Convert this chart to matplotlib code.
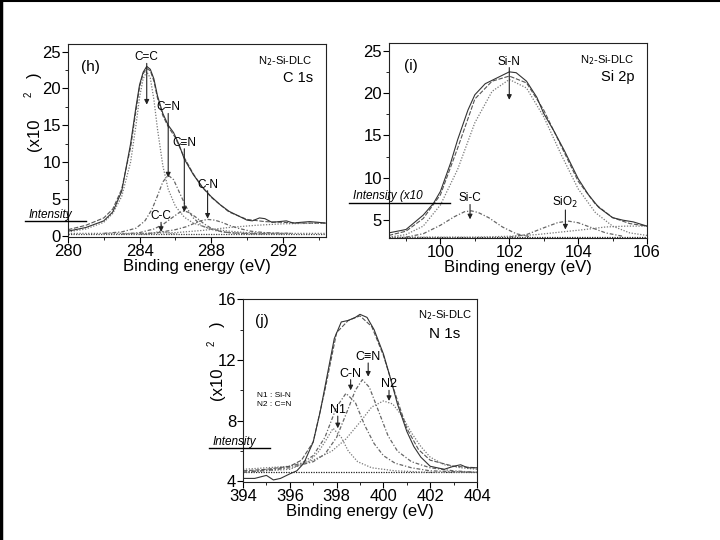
import numpy as np
import matplotlib
matplotlib.use('Agg')
import matplotlib.pyplot as plt
from matplotlib.lines import Line2D
from matplotlib.ticker import MultipleLocator

plt.rcParams['font.family'] = ['Liberation Sans', 'DejaVu Sans']

# ---- (h) C 1s ----
h_x_meas = [280, 281, 282, 282.5, 283, 283.5, 283.8, 284, 284.2, 284.4, 284.6, 284.8, 285, 285.3,
            285.6, 285.9, 286.2, 286.5, 287, 287.5, 288, 288.5, 289, 289.5, 290, 290.3, 290.7,
            291, 291.4, 291.8, 292.2, 292.6, 293, 293.5, 294, 294.4]
h_y_meas = [0.6, 1.1, 2.0, 3.2, 6.0, 12.5, 17.5, 20.5, 22.2, 23.0, 22.6, 21.3, 19.0, 16.6,
            15.0, 14.0, 12.4, 10.4, 8.3, 6.6, 5.3, 4.2, 3.3, 2.7, 2.1, 2.0, 2.4,
            2.3, 1.8, 1.9, 2.0, 1.7, 1.8, 1.9, 1.8, 1.7]
h_x_fit = [280, 281, 282, 282.5, 283, 283.5, 283.8, 284, 284.2, 284.4, 284.6, 284.8, 285, 285.3,
           285.6, 286, 286.5, 287, 287.5, 288, 289, 290, 291, 292, 293, 294.4]
h_y_fit = [0.8, 1.4, 2.4, 3.6, 6.3, 12.0, 17.0, 20.2, 22.0, 22.7, 22.4, 21.0, 18.7, 16.3,
           14.8, 13.3, 10.6, 8.4, 6.6, 5.2, 3.2, 2.2, 1.9, 1.8, 1.7, 1.7]
h_x_cc2 = [280, 281, 282, 282.5, 283, 283.5, 283.8, 284, 284.2, 284.4, 284.6, 284.8, 285, 285.3,
           285.6, 286, 286.5, 287, 288, 289, 290, 292, 294.4]
h_y_cc2 = [0.5, 0.9, 1.8, 3.0, 5.3, 10.0, 15.0, 18.8, 21.3, 22.3, 21.4, 18.5, 14.5, 9.5,
           6.3, 4.0, 2.5, 1.7, 0.9, 0.6, 0.4, 0.3, 0.3]
h_x_cn2 = [282, 283, 283.8, 284.3, 284.7, 285, 285.3, 285.6, 285.9, 286.2, 286.6, 287, 287.5,
           288.2, 289, 290, 292]
h_y_cn2 = [0.3, 0.5, 1.0, 2.0, 3.6, 5.4, 7.3, 8.2, 7.6, 6.0, 3.9, 2.4, 1.3, 0.7, 0.4, 0.3, 0.25]
h_x_cn3 = [283, 284, 284.8, 285.3, 285.8, 286.2, 286.5, 286.8, 287.2, 287.6, 288, 288.6, 289.5, 291]
h_y_cn3 = [0.2, 0.4, 0.9, 1.5, 2.4, 3.1, 3.35, 3.1, 2.4, 1.6, 1.0, 0.5, 0.3, 0.2]
h_x_cn1 = [284, 285, 286, 286.6, 287, 287.4, 287.8, 288.2, 288.6, 289, 289.5, 290.2, 291, 292.5]
h_y_cn1 = [0.2, 0.4, 0.8, 1.2, 1.6, 2.0, 2.2, 2.1, 1.8, 1.4, 1.0, 0.6, 0.4, 0.3]
h_x_cc1 = [284.3, 284.7, 285.0, 285.2, 285.4, 285.7, 286.1]
h_y_cc1 = [0.2, 0.3, 0.5, 0.6, 0.5, 0.3, 0.2]
h_x_bg = [280, 284, 286, 287.5, 289, 290.5, 292, 294.4]
h_y_bg = [0.3, 0.3, 0.4, 0.7, 1.1, 1.4, 1.6, 1.7]

# ---- (i) Si 2p ----
i_x_meas = [98.5, 99, 99.5, 99.8, 100, 100.3, 100.5, 100.8, 101, 101.3, 101.5, 101.8, 102, 102.2,
            102.5, 102.8, 103, 103.3, 103.6, 104, 104.3, 104.6, 105, 105.3, 105.6, 106]
i_y_meas = [3.5, 3.9, 5.6, 7.0, 8.4, 11.8, 14.5, 18.0, 19.8, 21.1, 21.5, 22.1, 22.5, 22.4,
            21.4, 19.5, 17.6, 15.5, 13.2, 9.9, 8.0, 6.5, 5.3, 5.0, 4.8, 4.3]
i_x_fit = [98.5, 99, 99.5, 100, 100.5, 101, 101.5, 102, 102.5, 103, 103.5, 104, 104.5, 105, 105.5, 106]
i_y_fit = [3.2, 3.7, 5.2, 8.0, 13.5, 19.3, 21.4, 22.0, 21.2, 18.0, 13.8, 9.6, 6.9, 5.3, 4.6, 4.3]
i_x_sin = [98.5, 99, 99.5, 100, 100.5, 101, 101.5, 102, 102.5, 103, 103.5, 104, 104.5, 105, 105.5, 106]
i_y_sin = [3.0, 3.3, 4.3, 6.8, 11.0, 16.5, 20.2, 21.6, 20.6, 17.2, 12.8, 8.7, 5.9, 4.3, 3.5, 3.2]
i_x_sic = [99, 99.5, 100, 100.4, 100.7, 100.9, 101.1, 101.4, 101.8, 102.2, 102.6]
i_y_sic = [3.0, 3.4, 4.4, 5.4, 6.0, 6.1, 5.9, 5.3, 4.2, 3.4, 3.05]
i_x_sio = [102, 102.5, 103, 103.4, 103.7, 104, 104.4, 104.8, 105.3]
i_y_sio = [3.0, 3.3, 4.1, 4.7, 4.9, 4.7, 4.1, 3.5, 3.1]
i_x_bg = [98.5, 101, 102, 102.8, 103.5, 104.2, 104.8, 105.4, 106]
i_y_bg = [3.0, 3.0, 3.1, 3.3, 3.6, 3.9, 4.2, 4.3, 4.3]

# ---- (j) N 1s ----
j_x_meas = [394, 394.5, 395, 395.3, 395.6, 396, 396.3, 396.6, 397, 397.3, 397.6, 397.9, 398.2,
            398.5, 398.8, 399, 399.3, 399.6, 400, 400.3, 400.6, 401, 401.3, 401.6, 402, 402.3,
            402.6, 403, 403.3, 403.6, 404]
j_y_meas = [4.2, 4.2, 4.4, 4.1, 4.2, 4.5, 4.7, 5.2, 6.6, 8.6, 11.0, 13.4, 14.5,
            14.6, 14.8, 15.0, 14.8, 14.0, 12.4, 10.8, 9.1, 7.3, 6.3, 5.6, 5.0, 4.9,
            4.8, 5.0, 5.1, 4.9, 4.9]
j_x_fit = [394, 395, 396, 396.5, 397, 397.5, 398, 398.5, 399, 399.5, 400, 400.5, 401, 401.5, 402, 403, 404]
j_y_fit = [4.7, 4.8, 5.0, 5.4, 6.6, 10.0, 13.8, 14.6, 14.9, 14.2, 12.3, 9.8, 7.5, 6.1, 5.4, 5.0, 4.9]
j_x_n1 = [394, 396, 396.8, 397.2, 397.5, 397.85, 398.2, 398.5, 398.9, 399.5, 400.5, 402, 404]
j_y_n1 = [4.6, 4.8, 5.3, 5.9, 6.6, 7.5, 6.9, 6.0, 5.3, 4.9, 4.7, 4.6, 4.6]
j_x_cn = [394, 395.5, 396.5, 397, 397.5, 398, 398.4, 398.8, 399.2, 399.6, 400, 400.5, 401.2, 402, 404]
j_y_cn = [4.6, 4.8, 5.2, 5.7, 6.9, 8.9, 9.8, 9.2, 7.7, 6.5, 5.7, 5.2, 4.9, 4.7, 4.6]
j_x_cn3 = [394, 396, 397, 397.5, 398, 398.5, 398.8, 399.1, 399.4, 399.8, 400.2, 400.6, 401.2, 402, 403, 404]
j_y_cn3 = [4.6, 4.9, 5.3, 5.8, 6.9, 8.8, 10.0, 10.7, 10.2, 8.6, 7.0, 6.0, 5.3, 4.9, 4.7, 4.6]
j_x_n2 = [394, 396, 397, 397.8, 398.4, 399, 399.5, 400, 400.4, 400.8, 401.2, 401.6, 402, 402.6, 403.3, 404]
j_y_n2 = [4.8, 5.0, 5.4, 6.0, 6.8, 7.9, 8.9, 9.3, 9.1, 8.3, 7.2, 6.3, 5.6, 5.1, 4.9, 4.8]

# peak labels: text, x, arrow start y, arrow end y
h_peaks = [('C=C', 284.4, 23.4, 17.8), ('C=N', 285.6, 16.6, 7.9),
           ('C\u2261N', 286.5, 11.8, 3.2), ('C-N', 287.8, 6.1, 2.3), ('C-C', 285.2, 1.8, 0.5)]
i_peaks = [('Si-N', 102.0, 23.0, 19.2), ('Si-C', 100.86, 6.85, 5.1), ('SiO$_2$', 103.63, 6.2, 3.9)]
j_peaks = [('C\u2261N', 399.35, 11.8, 10.9), ('C-N', 398.6, 10.7, 10.0),
           ('N2', 400.24, 10.0, 9.3), ('N1', 398.05, 8.3, 7.5)]

comp_style = dict(color='#777777', lw=0.9, ls=(0, (1, 1.3)))
dash_style = dict(color='#666666', lw=0.9, ls=(0, (3, 1.5, 1, 1.5)))
fit_style = dict(color='#555555', lw=0.8, ls=(0, (4, 1.5)))
meas_style = dict(color='#333333', lw=0.8)

fig = plt.figure(figsize=(7.2, 5.4), dpi=100)
fig.add_artist(Line2D([0.002, 0.002], [0, 1], color='black', lw=2.5))
fig.add_artist(Line2D([0, 1], [0.999, 0.999], color='black', lw=1.5))


def style_axes(ax, xmaj, xmin, ymaj, ymin):
    ax.xaxis.set_major_locator(MultipleLocator(xmaj))
    ax.xaxis.set_minor_locator(MultipleLocator(xmin))
    ax.yaxis.set_major_locator(MultipleLocator(ymaj))
    ax.yaxis.set_minor_locator(MultipleLocator(ymin))
    ax.tick_params(which='major', direction='out', length=4, width=0.8, labelsize=12, pad=1)
    ax.tick_params(which='minor', direction='out', length=2, width=0.6)
    for s in ax.spines.values():
        s.set_linewidth(0.8)
        s.set_color('#222222')
    ax.set_xlabel('Binding energy (eV)', fontsize=12, labelpad=0)


def label_peaks(ax, peaks, fs=8.5):
    for name, x, y0, y1 in peaks:
        ax.annotate('', xy=(x, y1), xytext=(x, y0),
                    arrowprops=dict(arrowstyle='-|>', color='#222222', lw=0.8,
                                    mutation_scale=7, shrinkA=0, shrinkB=0))
        ax.text(x, y0, name, fontsize=fs, ha='center', va='bottom')


# (h)
ax = fig.add_axes([0.0944, 0.561, 0.358, 0.357])
ax.plot(h_x_bg, h_y_bg, **comp_style)
ax.plot([280, 294.4], [0.2, 0.2], color='#444444', lw=0.9, ls=(0, (1, 1)))
ax.plot(h_x_cc1, h_y_cc1, **comp_style)
ax.plot(h_x_cn1, h_y_cn1, **dash_style)
ax.plot(h_x_cn3, h_y_cn3, **dash_style)
ax.plot(h_x_cn2, h_y_cn2, **dash_style)
ax.plot(h_x_cc2, h_y_cc2, **comp_style)
ax.plot(h_x_fit, h_y_fit, **fit_style)
ax.plot(h_x_meas, h_y_meas, **meas_style)
ax.set_xlim(280, 294.4)
ax.set_ylim(-0.2, 26)
style_axes(ax, 4, 2, 5, 2.5)
label_peaks(ax, h_peaks)
ax.text(0.05, 0.92, '(h)', transform=ax.transAxes, fontsize=11, va='top')
ax.text(0.95, 0.95, 'N$_2$-Si-DLC', transform=ax.transAxes, fontsize=8, ha='right', va='top')
ax.text(0.95, 0.86, 'C 1s', transform=ax.transAxes, fontsize=10.5, ha='right', va='top')

# (i)
ax = fig.add_axes([0.540, 0.5593, 0.3586, 0.361])
ax.plot([98.5, 106], [3.0, 3.0], color='#222222', lw=0.9, ls=(0, (1, 1)))
ax.plot(i_x_bg, i_y_bg, **comp_style)
ax.plot(i_x_sic, i_y_sic, **dash_style)
ax.plot(i_x_sio, i_y_sio, **dash_style)
ax.plot(i_x_sin, i_y_sin, **comp_style)
ax.plot(i_x_fit, i_y_fit, **fit_style)
ax.plot(i_x_meas, i_y_meas, **meas_style)
ax.set_xlim(98.5, 106)
ax.set_ylim(2.9, 25.9)
style_axes(ax, 2, 1, 5, 2.5)
label_peaks(ax, i_peaks)
ax.text(0.06, 0.92, '(i)', transform=ax.transAxes, fontsize=11, va='top')
ax.text(0.95, 0.95, 'N$_2$-Si-DLC', transform=ax.transAxes, fontsize=8, ha='right', va='top')
ax.text(0.95, 0.86, 'Si 2p', transform=ax.transAxes, fontsize=10.5, ha='right', va='top')

# (j)
ax = fig.add_axes([0.3375, 0.107, 0.325, 0.339])
ax.plot([394, 404], [4.6, 4.6], color='#222222', lw=0.9, ls=(0, (1, 1)))
ax.plot(j_x_n1, j_y_n1, **comp_style)
ax.plot(j_x_cn, j_y_cn, **dash_style)
ax.plot(j_x_cn3, j_y_cn3, **dash_style)
ax.plot(j_x_n2, j_y_n2, **comp_style)
ax.plot(j_x_fit, j_y_fit, **fit_style)
ax.plot(j_x_meas, j_y_meas, **meas_style)
ax.set_xlim(394, 404)
ax.set_ylim(3.95, 16)
style_axes(ax, 2, 1, 4, 2)
label_peaks(ax, j_peaks, fs=9)
ax.text(0.05, 0.92, '(j)', transform=ax.transAxes, fontsize=11, va='top')
ax.text(0.98, 0.95, 'N$_2$-Si-DLC', transform=ax.transAxes, fontsize=8, ha='right', va='top')
ax.text(0.93, 0.85, 'N 1s', transform=ax.transAxes, fontsize=11, ha='right', va='top')
ax.text(0.06, 0.45, 'N1 : Si-N\nN2 : C=N', transform=ax.transAxes, fontsize=6,
        va='center', linespacing=1.5)

# broken y-axis titles, as in the original scan
for xh, yh, xr, yr in [(0.040, 0.59, 0.048, 0.75), (0.295, 0.17, 0.302, 0.29)]:
    fig.text(xh, yh, 'Intensity', fontsize=8.5, style='italic', ha='left', va='bottom')
    fig.add_artist(Line2D([xh - 0.005, xh + 0.08], [yh, yh], color='black', lw=1.0))
    fig.text(xr, yr, '(x10', fontsize=12, rotation=90, ha='center', va='center')
    fig.text(xr - 0.008, yr + 0.075, '2', fontsize=7, rotation=90, ha='center', va='center')
    fig.text(xr, yr + 0.11, ')', fontsize=12, rotation=90, ha='center', va='center')
fig.text(0.49, 0.625, 'Intensity (x10', fontsize=8.5, style='italic', ha='left', va='bottom')
fig.add_artist(Line2D([0.485, 0.625], [0.625, 0.625], color='black', lw=1.0))

fig.savefig('out.png', dpi=100)
